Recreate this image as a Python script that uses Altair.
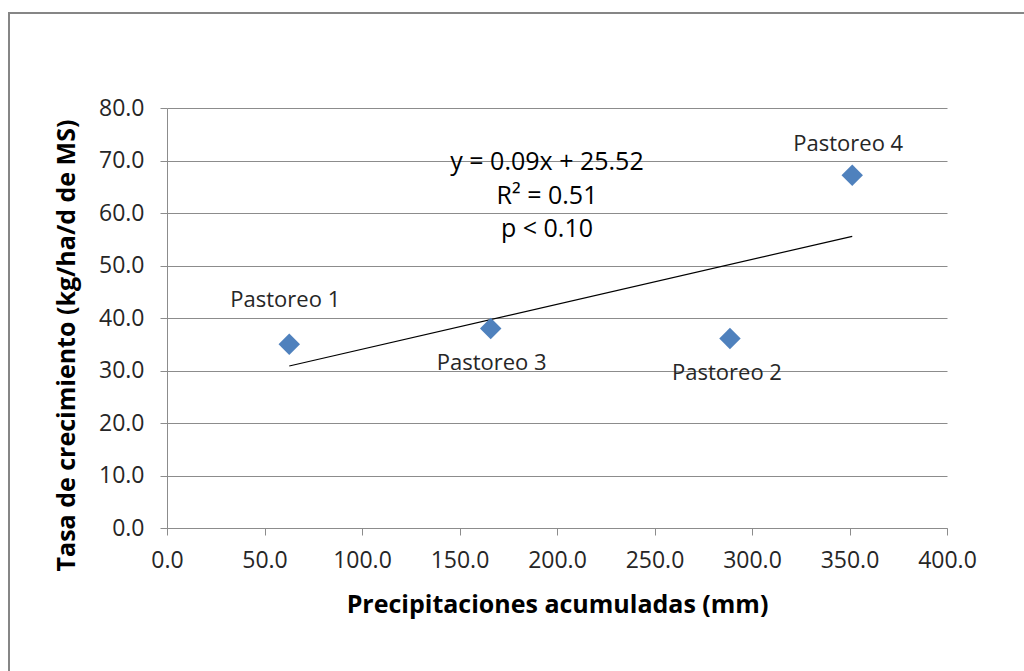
import altair as alt
import pandas as pd

# Grazing periods: accumulated rainfall (mm) vs. growth rate (kg/ha/d DM)
labels = ["Pastoreo 1", "Pastoreo 2", "Pastoreo 3", "Pastoreo 4"]
precip = [62.7, 288.7, 166.0, 351.4]
growth = [35.0, 36.1, 38.0, 67.2]

x_ticks = [0, 50, 100, 150, 200, 250, 300, 350, 400]
y_ticks = [0, 10, 20, 30, 40, 50, 60, 70, 80]

equation = ["y = 0.09x + 25.52", "R² = 0.51", "p < 0.10"]

df = pd.DataFrame({"label": labels, "precip": precip, "growth": growth})

FONT = "Open Sans"
GRID = "#8c8c8c"
TEXT = "#262626"

x_enc = alt.X(
    "precip:Q",
    title="Precipitaciones acumuladas (mm)",
    scale=alt.Scale(domain=[0, 400], nice=False),
    axis=alt.Axis(
        values=x_ticks, format=".1f", grid=False, labelFlush=False,
        domainColor=GRID, tickColor=GRID, tickSize=7,
        labelFont=FONT, labelFontSize=23, labelColor=TEXT, labelPadding=14,
        titleFont=FONT, titleFontSize=25, titleFontWeight="bold", titleColor="black",
        titleBaseline="middle", titleY=76,
    ),
)
y_enc = alt.Y(
    "growth:Q",
    title="Tasa de crecimiento (kg/ha/d de MS)",
    scale=alt.Scale(domain=[0, 80], nice=False),
    axis=alt.Axis(
        values=y_ticks, format=".1f", grid=True, gridColor=GRID, labelFlush=False,
        domainColor=GRID, tickColor=GRID, tickSize=7,
        labelFont=FONT, labelFontSize=23, labelColor=TEXT, labelPadding=16,
        titleFont=FONT, titleFontSize=25, titleFontWeight="bold", titleColor="black",
        titleBaseline="middle", titleAlign="center", titleAngle=-90,
        titleX=-101, titleY=237,
    ),
)

base = alt.Chart(df)

# outer chart-area border
frame = alt.Chart(pd.DataFrame({"k": [0]})).mark_rect(
    filled=False, stroke="#868686", strokeWidth=2
).encode(
    x=alt.value(-158), x2=alt.value(900),
    y=alt.value(-95), y2=alt.value(620),
)

trend = base.transform_regression("precip", "growth").mark_line(
    color="black", strokeWidth=1.2
).encode(x=x_enc, y=y_enc)

points = base.mark_point(
    shape="diamond", filled=True, size=460, color="#4F81BD", opacity=1
).encode(x=x_enc, y=y_enc)

# data-label offsets (pixels) for each point
offsets = {
    "Pastoreo 1": (-4, -44),
    "Pastoreo 2": (-3, 35),
    "Pastoreo 3": (1, 34),
    "Pastoreo 4": (-4, -31),
}
label_layers = [
    base.transform_filter(alt.datum.label == name).mark_text(
        font=FONT, fontSize=22, color=TEXT, align="center", baseline="middle",
        dx=dx, dy=dy,
    ).encode(x=x_enc, y=y_enc, text="label:N")
    for name, (dx, dy) in offsets.items()
]

eq_text = alt.Chart(pd.DataFrame({"t": ["\n".join(equation)]})).mark_text(
    font=FONT, fontSize=25, color="black", align="center", baseline="middle",
    lineBreak="\n", lineHeight=33.5,
).encode(x=alt.value(380), y=alt.value(54), text="t:N")

chart = alt.layer(frame, trend, points, *label_layers, eq_text).properties(
    width=780, height=420,
    autosize=alt.AutoSizeParams(type="none"),
    padding={"left": 167, "top": 108, "right": 77, "bottom": 143},
    background="white",
).configure_view(stroke=None)

chart.save("out.html", embed_options={"renderer": "svg", "actions": False})
